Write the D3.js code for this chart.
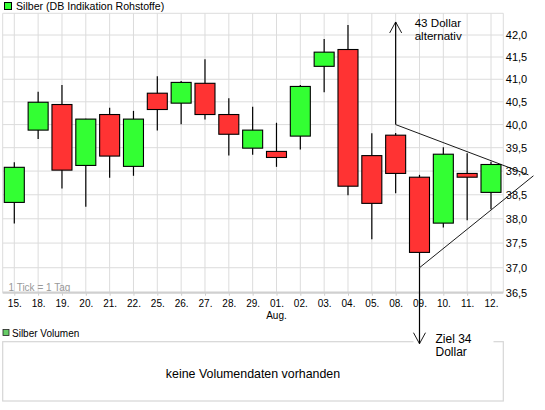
<!DOCTYPE html>
<html><head><meta charset="utf-8">
<script src="https://cdn.jsdelivr.net/npm/d3@7"></script>
<style>
html,body{margin:0;padding:0;background:#fff;}
svg{display:block;font-family:"Liberation Sans",Arial,sans-serif;}
</style></head>
<body><svg id="c" width="545" height="410"></svg>
<script>
// ---- data ----
const categories = ["15.","18.","19.","20.","21.","22.","25.","26.","27.","28.","29.","01.","02.","03.","04.","05.","08.","09.","10.","11.","12."];
const openV  = [38.34,39.88,40.44,39.12,40.22,39.10,40.69,40.47,40.91,40.22,39.49,39.42,39.75,41.29,41.67,39.33,39.77,38.87,37.91,38.95,38.55];
const highV  = [39.19,40.72,40.87,40.13,40.37,40.30,41.07,40.96,41.45,40.58,40.39,40.04,40.87,41.91,42.23,39.81,39.82,38.92,39.51,39.38,39.20];
const lowV   = [37.90,39.69,38.63,38.25,38.86,38.90,39.87,40.01,40.11,39.33,39.35,39.09,39.46,40.71,38.49,37.58,38.53,37.00,37.82,37.97,38.20];
const closeV = [39.08,40.49,39.02,40.12,39.32,40.12,40.33,40.93,40.22,39.79,39.88,39.29,40.84,41.61,38.68,38.32,38.95,37.31,39.36,38.87,39.14];
const yTicks = [36.5,37.0,37.5,38.0,38.5,39.0,39.5,40.0,40.5,41.0,41.5,42.0];
const gridValues = [36.5,37.0,37.5,38.0,38.5,39.0,39.5,40.0,40.5,41.0,41.5,42.0,42.5];
const monthLabels = [{idx:11, text:"Aug."}];
// annotations (category index, price)
const upArrow = {idx:16, from:40.0, to:42.3, lines:["43 Dollar","alternativ"]};
const downArrow = {idx:17, from:37.0, to:35.5, lines:["Ziel 34","Dollar"]};
const triangleLines = [
  [[16,40.0],[21.57,38.92]],
  [[17,37.0],[21.78,38.90]]
];
const titleText = "Silber (DB Indikation Rohstoffe)";
const volTitle = "Silber Volumen";
const volNote = "keine Volumendaten vorhanden";
const tickNote = "1 Tick = 1 Tag";

// ---- layout ----
const svg = d3.select("#c");
const plot = {left:2.7, right:503.3, top:13.3, bottom:292.7};
const x = d3.scaleLinear().domain([0, categories.length-1]).range([14.3, 491]);
const y = d3.scaleLog().domain([36.5, 42.5]).range([plot.bottom, plot.top]);
const fmt = v => d3.format(".1f")(v).replace(".", ",");
const gridColor = "#dcdcdc";

// title
svg.append("rect").attr("x",4.5).attr("y",2.5).attr("width",7).attr("height",7)
  .attr("fill","#33ff33").attr("stroke","#000").attr("stroke-width",1);
svg.append("text").attr("x",16).attr("y",10).attr("font-size",10.6).attr("fill","#000").text(titleText);

// grid
const g = svg.append("g");
g.selectAll("line.h").data(gridValues).enter().append("line")
  .attr("x1",plot.left).attr("x2",plot.right)
  .attr("y1",d=>y(d)).attr("y2",d=>y(d))
  .attr("stroke",gridColor).attr("stroke-width",1);
g.selectAll("line.v").data(d3.range(categories.length)).enter().append("line")
  .attr("x1",d=>x(d)).attr("x2",d=>x(d))
  .attr("y1",plot.top).attr("y2",plot.bottom)
  .attr("stroke",gridColor).attr("stroke-width",1);
g.append("line").attr("x1",plot.left).attr("x2",plot.left).attr("y1",plot.top).attr("y2",plot.bottom).attr("stroke",gridColor);
g.append("line").attr("x1",plot.right).attr("x2",plot.right).attr("y1",plot.top).attr("y2",plot.bottom).attr("stroke",gridColor);

// tick note
svg.append("text").attr("x",8.5).attr("y",290.5).attr("font-size",10).attr("fill","#999").text(tickNote);

// x axis
const xAxis = d3.axisBottom(x).tickValues(d3.range(categories.length))
  .tickFormat(i=>categories[i]).tickSize(3).tickSizeOuter(0);
const xg = svg.append("g").attr("transform",`translate(0,${plot.bottom})`).call(xAxis);
xg.select(".domain").remove();
xg.selectAll(".tick line").attr("stroke","#ccc");
xg.selectAll(".tick text").attr("font-size",10).attr("fill","#000").attr("font-family","Liberation Sans, Arial, sans-serif").attr("y",7);
svg.append("line").attr("x1",plot.left).attr("x2",plot.right).attr("y1",plot.bottom).attr("y2",plot.bottom)
  .attr("stroke","#d0d0d0").attr("stroke-width",2.2);
svg.selectAll("text.month").data(monthLabels).enter().append("text")
  .attr("x",d=>x(d.idx)).attr("y",319).attr("text-anchor","middle").attr("font-size",10).text(d=>d.text);

// y axis
const yAxis = d3.axisRight(y).tickValues(yTicks).tickFormat(fmt).tickSize(0);
const yg = svg.append("g").attr("transform",`translate(${plot.right},0)`).call(yAxis);
yg.select(".domain").remove();
yg.selectAll(".tick text").attr("x",2.5).attr("font-size",11).attr("fill","#000").attr("font-family","Liberation Sans, Arial, sans-serif");

// candles
const idx = d3.range(categories.length);
const cg = svg.append("g");
cg.selectAll("line.w").data(idx).enter().append("line")
  .attr("x1",i=>x(i)).attr("x2",i=>x(i))
  .attr("y1",i=>y(highV[i])).attr("y2",i=>y(lowV[i]))
  .attr("stroke","#000").attr("stroke-width",1.2);
const bw = 20;
cg.selectAll("rect.b").data(idx).enter().append("rect")
  .attr("x",i=>x(i)-bw/2).attr("width",bw)
  .attr("y",i=>y(Math.max(openV[i],closeV[i])))
  .attr("height",i=>Math.max(1,Math.abs(y(openV[i])-y(closeV[i]))))
  .attr("fill",i=>closeV[i]>=openV[i]?"#33ff33":"#ff3333")
  .attr("stroke","#000").attr("stroke-width",1.1);

// volume panel
svg.append("rect").attr("x",3).attr("y",329.5).attr("width",6).attr("height",6)
  .attr("fill","#66cc66").attr("stroke","#222").attr("stroke-width",0.8);
svg.append("text").attr("x",12).attr("y",336.5).attr("font-size",10).text(volTitle);
svg.append("rect").attr("x",plot.left).attr("y",341.7).attr("width",plot.right-plot.left).attr("height",401-341.7)
  .attr("fill","none").attr("stroke","#d6d6d6").attr("stroke-width",1.2);
svg.append("text").attr("x",(plot.left+plot.right)/2).attr("y",377.5).attr("text-anchor","middle")
  .attr("font-size",12.4).text(volNote);

// triangle lines
const line = d3.line().x(d=>x(d[0])).y(d=>y(d[1]));
svg.selectAll("path.tri").data(triangleLines).enter().append("path")
  .attr("d",line).attr("fill","none").attr("stroke","#000").attr("stroke-width",0.9);

// arrows
function arrow(a, dir){
  const ax = x(a.idx), y0 = y(a.from), y1 = y(a.to);
  svg.append("line").attr("x1",ax).attr("x2",ax).attr("y1",y0).attr("y2",y1).attr("stroke","#000").attr("stroke-width",1.2);
  const back = dir==="up" ? 11 : -11;
  svg.append("path").attr("d",`M${ax-6},${y1+back}L${ax},${y1}L${ax+6},${y1+back}`)
    .attr("fill","none").attr("stroke","#000").attr("stroke-width",0.9);
}
// white label background for lower annotation
const dax = x(downArrow.idx);
svg.append("rect").attr("x",dax-6).attr("y",335).attr("width",80).attr("height",9).attr("fill","#fff");
arrow(upArrow,"up");
arrow(downArrow,"down");
function multiText(xp, yp, lines, lh, fs){
  const t = svg.append("text").attr("x",xp).attr("y",yp).attr("font-size",fs);
  lines.forEach((s,k)=>t.append("tspan").attr("x",xp).attr("dy",k===0?0:lh).text(s));
}
multiText(x(upArrow.idx)+19, 27, upArrow.lines, 12.8, 11.6);
multiText(dax+16, 342.5, downArrow.lines, 13.3, 12);
</script></body></html>
